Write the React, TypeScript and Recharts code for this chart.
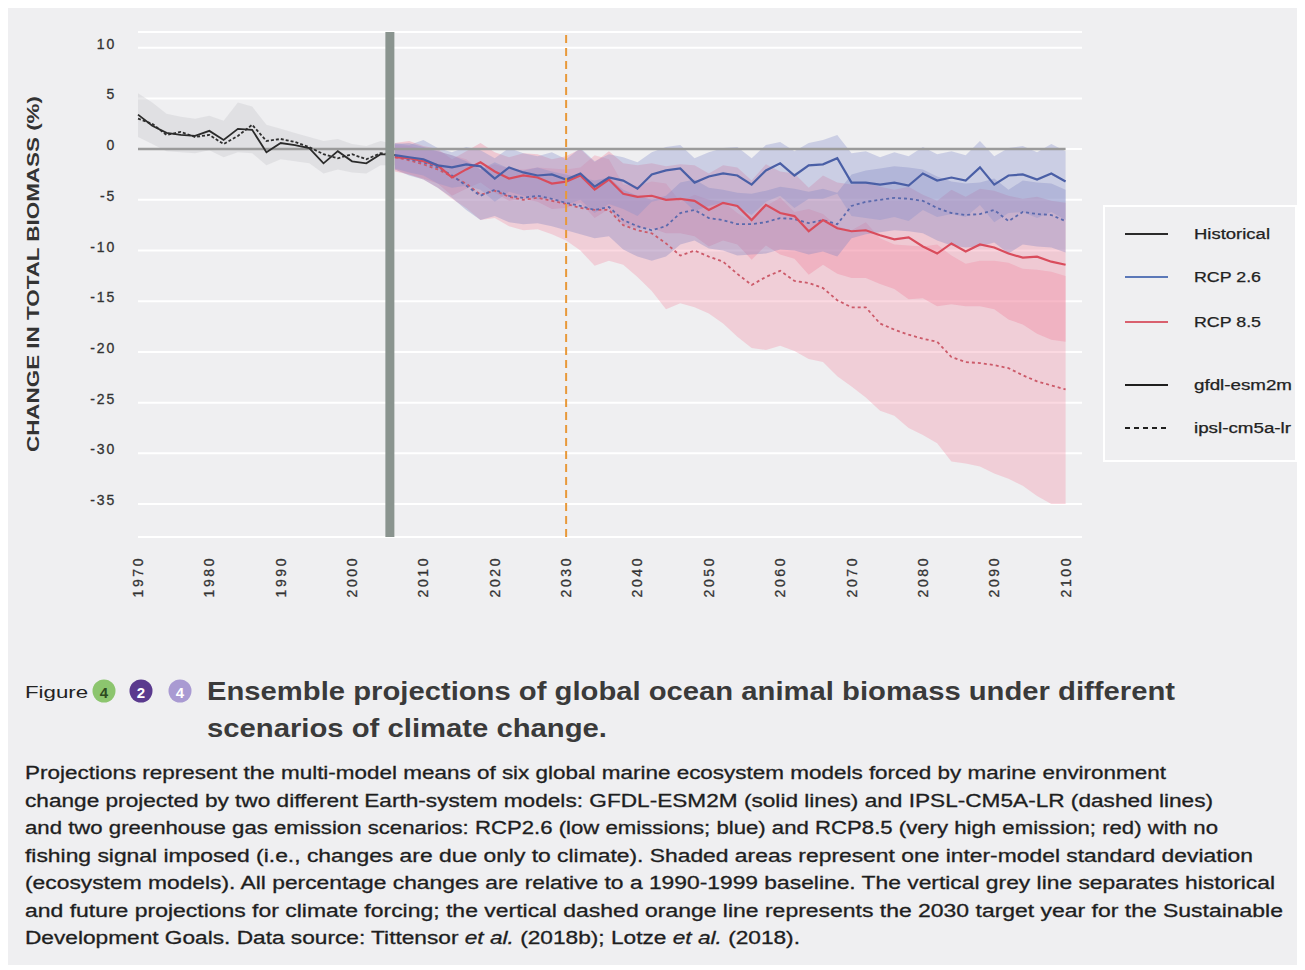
import { ComposedChart, Line, Area, XAxis, YAxis, CartesianGrid, ReferenceLine } from 'recharts';

// ── Data ─────────────────────────────────────────────────────────────────────

const histYears = [1970, 1972, 1974, 1976, 1978, 1980, 1982, 1984, 1986, 1988, 1990, 1992, 1994, 1996, 1998, 2000, 2002, 2004, 2006];
const histGfdl = [3.4, 2.3, 1.6, 1.4, 1.3, 1.8, 0.9, 2.0, 1.9, -0.3, 0.6, 0.4, 0.1, -1.4, -0.2, -1.2, -1.4, -0.5, -0.6];
const histIpsl = [3.0, 2.5, 1.4, 1.7, 1.2, 1.4, 0.5, 1.3, 2.4, 0.8, 1.0, 0.7, 0.2, -0.5, -0.9, -0.5, -1.0, -0.4, -0.6];
const histHi = [5.5, 4.6, 3.5, 3.2, 3.0, 3.3, 2.8, 4.6, 4.2, 2.4, 2.0, 1.6, 1.2, 0.8, 1.0, 0.5, 0.3, 0.8, 0.5];
const histLo = [1.2, 0.5, -0.2, -0.3, -0.4, -0.1, -0.8, -0.3, -0.4, -1.6, -1.0, -1.2, -1.4, -2.4, -2.0, -2.3, -2.4, -1.6, -1.6];

const futYears = [
    2006, 2008, 2010, 2012, 2014, 2016, 2018, 2020, 2022, 2024, 2026, 2028, 2030, 2032, 2034, 2036,
    2038, 2040, 2042, 2044, 2046, 2048, 2050, 2052, 2054, 2056, 2058, 2060, 2062, 2064, 2066, 2068,
    2070, 2072, 2074, 2076, 2078, 2080, 2082, 2084, 2086, 2088, 2090, 2092, 2094, 2096, 2098, 2100,
];

// RCP 2.6
const rcp26Gfdl = [
    -0.6, -0.8, -1.0, -1.6, -1.8, -1.5, -1.7, -2.9, -1.8, -2.3, -2.6, -2.5, -3.0, -2.4, -3.7, -2.8,
    -3.1, -3.9, -2.5, -2.1, -1.9, -3.3, -2.7, -2.4, -2.6, -3.5, -2.1, -1.4, -2.6, -1.6, -1.5, -0.9,
    -3.3, -3.3, -3.5, -3.3, -3.6, -2.4, -3.1, -2.8, -3.1, -1.8, -3.5, -2.6, -2.5, -3.0, -2.4, -3.2,
];
const rcp26GfdlHi = [
    0.6, 0.4, 0.9, 0.1, -0.3, 0.2, -0.1, -0.9, 0.1, -0.4, -0.7, -0.3, -1.0, 0.1, -1.2, -0.5,
    -0.8, -1.3, -0.3, 0.2, 0.4, -0.9, -0.3, 0.1, 0.2, -0.9, 0.4, 0.7, -0.2, 0.6, 0.9, 1.4,
    -0.4, -0.2, -0.8, -0.3, -0.7, 0.2, -0.5, -0.2, -0.6, 0.8, -0.7, 0.1, 0.3, -0.3, 0.5, -0.2,
];
const rcp26GfdlLo = [
    -1.9, -2.3, -2.6, -3.4, -3.8, -3.6, -4.0, -5.2, -4.2, -4.6, -5.0, -4.8, -5.5, -5.0, -6.3, -5.4,
    -5.9, -6.6, -5.2, -4.9, -4.8, -6.1, -5.6, -5.3, -5.7, -6.5, -5.2, -4.6, -5.8, -4.9, -4.9, -4.4,
    -6.6, -6.8, -7.0, -6.7, -7.1, -6.0, -6.7, -6.4, -6.7, -5.5, -7.2, -6.3, -6.2, -6.8, -6.2, -7.0,
];
const rcp26Ipsl = [
    -0.7, -1.0, -1.3, -1.8, -2.6, -3.6, -4.6, -4.0, -4.6, -4.8, -4.6, -4.9, -5.3, -5.6, -6.0, -5.7,
    -7.0, -7.6, -8.0, -7.6, -6.3, -6.0, -6.8, -7.0, -7.4, -7.4, -7.2, -6.8, -6.9, -7.3, -7.0, -7.4,
    -5.6, -5.2, -5.0, -4.8, -4.9, -5.1, -5.8, -6.3, -6.5, -6.4, -6.0, -7.1, -6.2, -6.4, -6.5, -7.1,
];
const rcp26IpslHi = [
    0.5, 0.6, 0.2, -0.2, -0.6, -1.2, -2.0, -1.3, -1.9, -2.1, -1.8, -2.2, -2.5, -2.8, -3.1, -2.8,
    -4.0, -4.6, -5.0, -4.6, -3.3, -3.0, -3.8, -4.0, -4.3, -4.4, -4.1, -3.7, -3.9, -4.2, -3.9, -4.3,
    -2.5, -2.1, -1.9, -1.7, -1.8, -2.0, -2.7, -3.2, -3.4, -3.3, -2.9, -4.0, -3.1, -3.3, -3.4, -4.0,
];
const rcp26IpslLo = [
    -2.0, -2.6, -3.0, -3.8, -4.8, -6.0, -7.0, -6.6, -7.2, -7.4, -7.3, -7.6, -8.0, -8.4, -8.8, -8.6,
    -9.9, -10.6, -11.0, -10.6, -9.4, -9.0, -9.8, -10.0, -10.5, -10.4, -10.3, -9.9, -10.0, -10.4, -10.1, -10.6,
    -8.8, -8.4, -8.2, -8.0, -8.1, -8.3, -9.0, -9.5, -9.7, -9.6, -9.2, -10.3, -9.4, -9.6, -9.7, -10.2,
];

// RCP 8.5
const rcp85Gfdl = [
    -0.8, -0.9, -1.2, -1.6, -2.8, -2.0, -1.3, -2.2, -2.9, -2.6, -2.8, -3.4, -3.2, -2.6, -4.0, -3.0,
    -4.4, -4.7, -4.6, -5.0, -4.9, -5.1, -6.0, -5.3, -5.6, -7.0, -5.5, -6.3, -6.6, -8.1, -7.0, -7.8,
    -8.1, -8.0, -8.5, -8.9, -8.7, -9.6, -10.3, -9.3, -10.1, -9.4, -9.7, -10.3, -10.7, -10.6, -11.1, -11.4,
];
const rcp85GfdlHi = [
    0.6, 0.8, 0.3, 0.0, -1.0, -0.2, 0.6, -0.3, -0.8, -0.4, -0.5, -1.0, -0.7, 0.0, -1.3, -0.2,
    -1.4, -1.6, -1.4, -1.7, -1.5, -1.6, -2.4, -1.6, -1.8, -3.1, -1.5, -2.2, -2.4, -3.8, -2.6, -3.3,
    -3.5, -3.3, -3.7, -4.0, -3.7, -4.5, -5.1, -4.0, -4.7, -3.9, -4.1, -4.6, -4.9, -4.7, -5.1, -5.3,
];
const rcp85GfdlLo = [
    -2.2, -2.5, -2.9, -3.4, -4.6, -3.9, -3.3, -4.3, -5.1, -4.9, -5.2, -5.9, -5.8, -5.3, -6.8, -5.9,
    -7.4, -7.8, -7.8, -8.3, -8.3, -8.6, -9.6, -9.0, -9.4, -10.9, -9.5, -10.4, -10.8, -12.4, -11.4, -12.3,
    -12.7, -12.7, -13.3, -13.8, -14.8, -14.7, -15.5, -15.3, -15.5, -15.5, -15.8, -16.8, -17.3, -18.2, -18.8, -19.0,
];
const rcp85Ipsl = [
    -0.8, -1.1, -1.5, -2.0, -2.7, -3.4, -4.5, -4.1, -4.7, -5.0, -4.8, -5.1, -5.4, -5.8, -6.0, -6.0,
    -7.5, -8.0, -8.3, -9.3, -10.5, -10.0, -10.6, -11.1, -12.3, -13.4, -12.6, -12.0, -13.0, -13.2, -13.7, -14.9,
    -15.6, -15.6, -17.2, -17.8, -18.3, -18.7, -19.0, -20.5, -21.0, -21.1, -21.3, -21.6, -22.3, -22.9, -23.3, -23.7,
];
const rcp85IpslHi = [
    0.4, 0.3, 0.0, -0.2, -0.6, -1.0, -2.0, -1.5, -1.9, -2.0, -1.8, -1.9, -2.0, -1.8, -0.6, -1.0,
    -3.5, -3.6, -3.2, -3.4, -5.2, -4.5, -5.0, -5.2, -6.3, -7.2, -5.6, -4.8, -6.2, -5.9, -6.4, -7.6,
    -8.0, -7.2, -8.8, -9.4, -9.5, -9.6, -9.4, -10.5, -11.3, -11.0, -11.0, -11.2, -11.8, -11.9, -12.1, -12.5,
];
const rcp85IpslLo = [
    -2.0, -2.5, -3.0, -3.8, -4.9, -5.8, -7.0, -6.8, -7.6, -8.0, -7.9, -8.4, -9.0, -10.0, -11.5, -11.0,
    -11.4, -12.6, -14.0, -15.8, -15.2, -15.6, -16.2, -17.2, -18.5, -19.6, -19.8, -19.4, -19.9, -20.7, -21.0, -22.4,
    -23.4, -24.5, -25.8, -26.3, -27.5, -28.2, -29.0, -30.8, -31.0, -31.3, -32.0, -32.5, -33.2, -34.2, -35.0, -35.0,
];

const xTicks = [1970, 1980, 1990, 2000, 2010, 2020, 2030, 2040, 2050, 2060, 2070, 2080, 2090, 2100];
const yTicks = [10, 5, 0, -5, -10, -15, -20, -25, -30, -35];

const legendItems = [
    { label: 'Historical', color: '#2b2b2b', dash: undefined },
    { label: 'RCP 2.6', color: '#5b78b8', dash: undefined },
    { label: 'RCP 8.5', color: '#d9606e', dash: undefined },
    { label: 'gfdl-esm2m', color: '#1f1f1f', dash: undefined },
    { label: 'ipsl-cm5a-lr', color: '#1f1f1f', dash: '5 4' },
];

const captionLines = [
    'Projections represent the multi-model means of six global marine ecosystem models forced by marine environment',
    'change projected by two different Earth-system models: GFDL-ESM2M (solid lines) and IPSL-CM5A-LR (dashed lines)',
    'and two greenhouse gas emission scenarios: RCP2.6 (low emissions; blue) and RCP8.5 (very high emission; red) with no',
    'fishing signal imposed (i.e., changes are due only to climate). Shaded areas represent one inter-model standard deviation',
    '(ecosystem models). All percentage changes are relative to a 1990-1999 baseline. The vertical grey line separates historical',
    'and future projections for climate forcing; the vertical dashed orange line represents the 2030 target year for the Sustainable',
];
const captionWidths = [1141, 1188, 1193, 1228, 1250, 1258];

// ── Table ────────────────────────────────────────────────────────────────────

const yearSet = Array.from(new Set([...histYears, ...futYears])).sort((a, b) => a - b);
const rows = yearSet.map((year) => {
    const h = histYears.indexOf(year);
    const f = futYears.indexOf(year);
    const row: any = { year };
    if (h >= 0) {
        row.histG = histGfdl[h];
        row.histI = histIpsl[h];
        row.histBand = [histLo[h], histHi[h]];
    }
    if (f >= 0) {
        row.b26g = rcp26Gfdl[f];
        row.b26i = rcp26Ipsl[f];
        row.r85g = rcp85Gfdl[f];
        row.r85i = rcp85Ipsl[f];
        row.b26gBand = [rcp26GfdlLo[f], rcp26GfdlHi[f]];
        row.b26iBand = [rcp26IpslLo[f], rcp26IpslHi[f]];
        row.r85gBand = [rcp85GfdlLo[f], rcp85GfdlHi[f]];
        row.r85iBand = [rcp85IpslLo[f], rcp85IpslHi[f]];
    }
    return row;
});

// ── Ticks ────────────────────────────────────────────────────────────────────

function XTick({ x, payload }: any) {
    return (
        <text
            x={x}
            y={570}
            transform={`rotate(-90 ${x} 570)`}
            textAnchor="middle"
            dominantBaseline="central"
            fill="#333"
            stroke="#333"
            strokeWidth={0.3}
            fontSize={14}
            textLength={39}
            lengthAdjust="spacing"
        >
            {payload.value}
        </text>
    );
}

function YTick({ y, payload }: any) {
    return (
        <text x={108} y={y - 4} textAnchor="end" dominantBaseline="central" fill="#333" stroke="#333" strokeWidth={0.3} fontSize={14} letterSpacing={1.8}>
            {payload.value}
        </text>
    );
}

// ── Component ────────────────────────────────────────────────────────────────

const BLUE = '#4a5fa6';
const BLUE_D = '#5a69ad';
const RED = '#d94c5c';
const RED_D = '#cc5a69';
const FONT = '"Liberation Sans", Arial, sans-serif';

export default function App() {
    return (
        <div style={{ position: 'relative', width: 1289, height: 957, background: '#efeff1', fontFamily: FONT }}>
            <div style={{ position: 'absolute', left: 0, top: 0 }}>
                <ComposedChart width={1090} height={619} data={rows} margin={{ top: 24, right: 16, left: 0, bottom: 0 }}>
                    <CartesianGrid horizontal vertical={false} stroke="#ffffff" strokeWidth={2} />
                    <XAxis
                        dataKey="year"
                        type="number"
                        domain={[1970, 2102.3]}
                        ticks={xTicks}
                        tick={<XTick />}
                        axisLine={false}
                        tickLine={false}
                        height={90}
                        interval={0}
                    />
                    <YAxis
                        type="number"
                        domain={[-38.25, 11.55]}
                        ticks={yTicks}
                        tick={<YTick />}
                        axisLine={false}
                        tickLine={false}
                        width={130}
                        interval={0}
                        allowDataOverflow
                    />

                    <Area dataKey="histBand" type="linear" stroke="none" fill="#cfcfd3" fillOpacity={0.45} isAnimationActive={false} activeDot={false} />
                    <Area dataKey="r85iBand" type="linear" stroke="none" fill="#f28aa2" fillOpacity={0.32} isAnimationActive={false} activeDot={false} />
                    <Area dataKey="r85gBand" type="linear" stroke="none" fill="#ee7a95" fillOpacity={0.32} isAnimationActive={false} activeDot={false} />
                    <Area dataKey="b26iBand" type="linear" stroke="none" fill="#7d84c2" fillOpacity={0.34} isAnimationActive={false} activeDot={false} />
                    <Area dataKey="b26gBand" type="linear" stroke="none" fill="#8890cb" fillOpacity={0.34} isAnimationActive={false} activeDot={false} />

                    <ReferenceLine segment={[{ x: 1970, y: 0 }, { x: 2100, y: 0 }]} stroke="#9b9b9b" strokeWidth={2.5} />

                    <Line dataKey="histI" type="linear" stroke="#2f2f2f" strokeWidth={1.8} strokeDasharray="3 2" dot={false} isAnimationActive={false} />
                    <Line dataKey="histG" type="linear" stroke="#2b2b2b" strokeWidth={1.8} dot={false} isAnimationActive={false} />
                    <Line dataKey="r85i" type="linear" stroke={RED_D} strokeWidth={1.8} strokeDasharray="3 3" dot={false} isAnimationActive={false} />
                    <Line dataKey="b26i" type="linear" stroke={BLUE_D} strokeWidth={1.8} strokeDasharray="3 3" dot={false} isAnimationActive={false} />
                    <Line dataKey="r85g" type="linear" stroke={RED} strokeWidth={2.2} dot={false} isAnimationActive={false} />
                    <Line dataKey="b26g" type="linear" stroke={BLUE} strokeWidth={2.2} dot={false} isAnimationActive={false} />

                    <ReferenceLine x={2005.3} stroke="#8a948f" strokeWidth={9} />
                    <ReferenceLine x={2030} stroke="#e8993a" strokeWidth={2} strokeDasharray="8 5" />
                </ComposedChart>
            </div>

            {/* y-axis title */}
            <svg style={{ position: 'absolute', left: 0, top: 0 }} width={60} height={560}>
                <text
                    x={25}
                    y={266}
                    transform="rotate(-90 25 266)"
                    textAnchor="middle"
                    dominantBaseline="central"
                    fontSize={16}
                    fontWeight="bold"
                    fill="#333"
                    textLength={356}
                    lengthAdjust="spacingAndGlyphs"
                >
                    CHANGE IN TOTAL BIOMASS (%)
                </text>
            </svg>

            {/* legend */}
            <svg style={{ position: 'absolute', left: 1095, top: 197 }} width={194} height={257}>
                <rect x={1} y={1} width={192} height={255} fill="none" stroke="#ffffff" strokeWidth={2} />
                {legendItems.map((it, i) => {
                    const cy = [29, 72, 117, 180, 223][i];
                    return (
                        <g key={it.label}>
                            <line x1={22} x2={65} y1={cy} y2={cy} stroke={it.color} strokeWidth={2} strokeDasharray={it.dash} />
                            <text x={91} y={cy} dominantBaseline="central" fontSize={14} fill="#222" stroke="#222" strokeWidth={0.25} textLength={[76, 67, 67, 98, 97][i]} lengthAdjust="spacingAndGlyphs">
                                {it.label}
                            </text>
                        </g>
                    );
                })}
            </svg>

            {/* figure title and caption */}
            <svg style={{ position: 'absolute', left: 0, top: 650 }} width={1289} height={307}>
                <text x={17} y={34} dominantBaseline="central" fontSize={17} fill="#222" textLength={63} lengthAdjust="spacingAndGlyphs">Figure</text>
                <circle cx={96} cy={33} r={11.5} fill="#8cc56e" />
                <text x={96} y={34} textAnchor="middle" dominantBaseline="central" fontSize={15} fontWeight="bold" fill="#2d4a20">4</text>
                <circle cx={133} cy={33} r={11.5} fill="#5a3a8e" />
                <text x={133} y={34} textAnchor="middle" dominantBaseline="central" fontSize={15} fontWeight="bold" fill="#ffffff">2</text>
                <circle cx={172} cy={33} r={11.5} fill="#a99ad2" />
                <text x={172} y={34} textAnchor="middle" dominantBaseline="central" fontSize={15} fontWeight="bold" fill="#ffffff">4</text>

                <text x={199} y={33} dominantBaseline="central" fontSize={25} fontWeight="bold" fill="#3a3a3a" textLength={968} lengthAdjust="spacingAndGlyphs">
                    Ensemble projections of global ocean animal biomass under different
                </text>
                <text x={199} y={70} dominantBaseline="central" fontSize={25} fontWeight="bold" fill="#3a3a3a" textLength={400} lengthAdjust="spacingAndGlyphs">
                    scenarios of climate change.
                </text>

                {captionLines.map((line, i) => (
                    <text key={i} x={17} y={115 + i * 27.5} dominantBaseline="central" fontSize={18} fill="#1e1e1e" stroke="#1e1e1e" strokeWidth={0.3} textLength={captionWidths[i]} lengthAdjust="spacingAndGlyphs">
                        {line}
                    </text>
                ))}
                <text x={17} y={115 + 6 * 27.5} dominantBaseline="central" fontSize={18} fill="#1e1e1e" stroke="#1e1e1e" strokeWidth={0.3} textLength={775} lengthAdjust="spacingAndGlyphs">
                    Development Goals. Data source: Tittensor <tspan fontStyle="italic">et al.</tspan> (2018b); Lotze <tspan fontStyle="italic">et al.</tspan> (2018).
                </text>
            </svg>
        </div>
    );
}
